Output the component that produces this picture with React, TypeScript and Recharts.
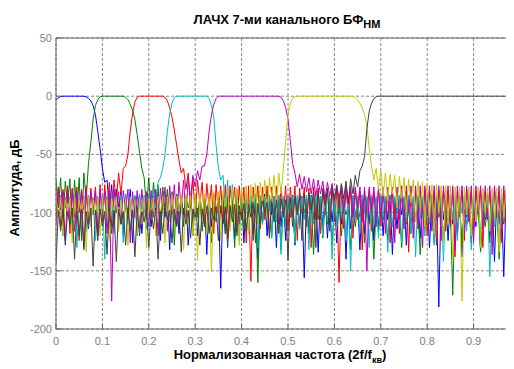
import React from 'react';
import { LineChart, Line, XAxis, YAxis, CartesianGrid, ReferenceLine } from 'recharts';

// Frequency grid step (normalized frequency 2f/fs); 201 samples from 0 to 1
const FREQ_STEP = 0.005;
const xTicks = [0, 0.1, 0.2, 0.3, 0.4, 0.5, 0.6, 0.7, 0.8, 0.9];
const yTicks = [-200, -150, -100, -50, 0, 50];

// Channel magnitude responses, dB (one value per grid point)
const ch1 = [
  -3.4, -1.5, -0.3, 0, 0, 0, 0, 0, 0, 0, 0, 0, 0, -0.5, -2, -4, -8, -16, -30, -45,
  -62, -74, -72, -98, -76, -110, -80, -95, -82, -120, -84, -104, -80, -126, -86, -100, -84, -118, -88, -106,
  -84, -112, -86, -98, -82, -124, -88, -104, -85, -132, -86, -108, -84, -118, -88, -102, -86, -128, -85, -110,
  -86, -120, -84, -104, -88, -136, -86, -112, -84, -100, -87, -165, -85, -118, -86, -106, -88, -122, -84, -110,
  -86, -126, -88, -104, -85, -118, -87, -140, -86, -108, -84, -120, -88, -102, -86, -130, -85, -112, -88, -124,
  -86, -104, -85, -128, -87, -110, -86, -156, -88, -118, -85, -106, -87, -134, -86, -112, -84, -122, -88, -108,
  -86, -126, -88, -110, -85, -140, -87, -114, -86, -104, -88, -132, -85, -118, -87, -108, -86, -124, -88, -112,
  -86, -120, -87, -106, -85, -136, -88, -114, -86, -102, -87, -128, -85, -116, -88, -108, -86, -122, -87, -110,
  -86, -130, -85, -112, -88, -181, -86, -106, -87, -124, -85, -110, -88, -118, -86, -138, -87, -104, -85, -126,
  -87, -112, -86, -132, -88, -106, -85, -120, -87, -142, -86, -110, -88, -155, -85, -108, -87, -130, -86, -114,
  -88,
];
const ch2 = [
  -72, -96, -70, -110, -73, -92, -71, -118, -72, -100, -70, -124, -66, -88, -58, -40, -20, -8, -3, -0.5,
  0, 0, 0, 0, 0, 0, 0, 0, 0, 0, -1, -3, -7, -12, -20, -33, -48, -62, -70, -96,
  -70, -104, -74, -92, -76, -116, -78, -98, -80, -108, -82, -128, -84, -100, -85, -112, -86, -96, -87, -120,
  -88, -104, -87, -116, -89, -98, -88, -126, -90, -108, -88, -100, -89, -118, -90, -106, -88, -130, -89, -102,
  -90, -114, -89, -104, -91, -124, -90, -160, -89, -110, -91, -100, -90, -120, -89, -108, -91, -132, -90, -112,
  -91, -104, -90, -126, -92, -112, -91, -100, -92, -118, -90, -136, -92, -106, -91, -122, -93, -110, -92, -128,
  -93, -108, -92, -120, -94, -102, -93, -132, -94, -112, -93, -104, -95, -126, -94, -110, -96, -140, -95, -116,
  -96, -106, -95, -124, -97, -112, -96, -100, -97, -130, -96, -110, -97, -118, -96, -104, -97, -136, -96, -114,
  -97, -108, -96, -126, -97, -104, -96, -120, -97, -112, -96, -171, -97, -106, -96, -128, -97, -110, -96, -122,
  -97, -104, -96, -134, -97, -112, -96, -126, -97, -106, -96, -140, -97, -110, -96, -122, -97, -108, -96, -130,
  -97,
];
const ch3 = [
  -100, -78, -112, -80, -96, -77, -118, -79, -104, -78, -124, -80, -98, -77, -110, -79, -102, -78, -116, -76,
  -108, -76, -98, -74, -112, -72, -90, -66, -84, -62, -60, -50, -30, -15, -5, -1, 0, 0, 0, 0,
  0, 0, 0, 0, 0, 0, 0, -1, -4, -10, -18, -29, -42, -55, -66, -62, -80, -66, -96, -70,
  -104, -72, -92, -74, -110, -75, -96, -76, -118, -76, -100, -77, -108, -76, -122, -77, -98, -78, -112, -77,
  -104, -78, -126, -77, -159, -78, -100, -77, -114, -78, -106, -77, -120, -78, -98, -77, -110, -78, -102, -77,
  -116, -78, -104, -77, -124, -79, -100, -78, -112, -79, -130, -78, -106, -79, -118, -79, -102, -80, -110, -79,
  -108, -80, -160, -81, -114, -80, -102, -81, -122, -80, -106, -82, -132, -81, -100, -80, -116, -82, -104, -81,
  -112, -80, -100, -82, -126, -81, -106, -80, -118, -82, -102, -81, -134, -80, -108, -82, -114, -81, -100, -80,
  -120, -82, -106, -81, -128, -80, -104, -82, -116, -81, -110, -80, -138, -82, -102, -81, -124, -80, -108, -82,
  -114, -81, -100, -80, -130, -82, -106, -81, -118, -80, -104, -82, -126, -81, -110, -80, -120, -82, -102, -81,
  -108,
];
const ch4 = [
  -86, -104, -85, -120, -87, -98, -86, -112, -85, -130, -87, -100, -86, -116, -85, -106, -87, -124, -86, -102,
  -85, -140, -86, -108, -84, -118, -86, -100, -85, -126, -84, -110, -86, -104, -85, -120, -84, -98, -85, -114,
  -84, -106, -80, -96, -74, -70, -62, -50, -30, -15, -6, -1, 0, 0, 0, 0, 0, 0, 0, 0,
  0, 0, 0, 0, 0, 0, -2, -8, -18, -42, -62, -72, -68, -100, -72, -112, -76, -104, -80, -124,
  -82, -106, -84, -118, -85, -100, -84, -130, -85, -110, -86, -104, -85, -122, -86, -108, -85, -136, -86, -112,
  -85, -102, -86, -126, -85, -114, -86, -106, -85, -132, -86, -110, -85, -100, -86, -120, -85, -108, -86, -140,
  -85, -112, -86, -104, -85, -124, -86, -150, -85, -106, -86, -118, -85, -100, -86, -130, -85, -110, -86, -122,
  -85, -104, -86, -134, -85, -112, -86, -100, -85, -126, -86, -108, -85, -118, -86, -138, -85, -106, -86, -120,
  -85, -110, -86, -128, -85, -102, -86, -142, -85, -112, -86, -106, -85, -124, -86, -100, -85, -116, -86, -132,
  -85, -108, -86, -120, -85, -104, -86, -155, -85, -112, -86, -128, -85, -106, -86, -140, -85, -110, -86, -118,
  -85,
];
const ch5 = [
  -110, -80, -98, -82, -124, -81, -104, -80, -116, -82, -100, -81, -130, -80, -108, -82, -96, -81, -120, -80,
  -106, -82, -118, -81, -176, -80, -100, -82, -110, -81, -98, -80, -126, -82, -104, -81, -114, -80, -100, -82,
  -112, -81, -104, -80, -120, -79, -98, -78, -116, -77, -102, -76, -110, -74, -96, -72, -104, -70, -88, -68,
  -78, -64, -72, -60, -60, -50, -30, -16, -7, -2, 0, 0, 0, 0, 0, 0, 0, 0, 0, 0,
  0, 0, 0, 0, 0, 0, 0, 0, 0, 0, 0, 0, 0, 0, 0, 0, 0, -1, -4, -10,
  -20, -38, -58, -66, -78, -67, -80, -69, -82, -70, -84, -71, -86, -72, -84, -73, -88, -74, -86, -75,
  -90, -76, -88, -76, -100, -77, -92, -77, -104, -78, -96, -78, -108, -78, -150, -78, -98, -78, -112, -78,
  -104, -78, -118, -78, -100, -78, -126, -78, -106, -77, -114, -77, -100, -77, -122, -77, -108, -77, -130, -77,
  -102, -77, -116, -77, -106, -77, -124, -77, -100, -77, -112, -77, -132, -77, -104, -77, -118, -77, -108, -77,
  -126, -77, -102, -77, -114, -77, -106, -77, -136, -77, -104, -77, -120, -77, -110, -77, -100, -77, -128, -77,
  -104,
];
const ch6 = [
  -88, -104, -87, -118, -89, -98, -88, -126, -87, -108, -89, -100, -88, -134, -87, -112, -89, -102, -88, -120,
  -87, -106, -89, -124, -88, -100, -87, -116, -89, -108, -88, -128, -87, -102, -89, -118, -88, -110, -87, -130,
  -88, -104, -87, -120, -86, -100, -87, -126, -86, -108, -85, -114, -86, -102, -85, -132, -84, -110, -85, -120,
  -84, -141, -83, -106, -84, -118, -83, -151, -82, -104, -82, -124, -81, -100, -80, -116, -80, -108, -79, -128,
  -78, -104, -77, -118, -76, -98, -75, -110, -74, -92, -72, -104, -70, -88, -68, -96, -66, -84, -62, -38,
  -16, -6, -2, -0.5, 0, 0, 0, 0, 0, 0, 0, 0, 0, 0, 0, 0, 0, 0, 0, 0,
  0, 0, 0, 0, 0, 0, 0, 0, 0, -1, -3, -6, -10, -16, -25, -45, -60, -72, -62, -80,
  -64, -86, -66, -90, -67, -84, -68, -96, -69, -88, -70, -100, -71, -92, -72, -108, -73, -96, -74, -112,
  -75, -104, -76, -118, -76, -100, -77, -126, -77, -110, -77, -140, -78, -106, -78, -176, -78, -102, -78, -120,
  -78, -108, -78, -130, -79, -100, -79, -116, -79, -106, -79, -134, -79, -104, -79, -118, -79, -110, -79, -126,
  -79,
];
const ch7 = [
  -144, -98, -116, -97, -128, -99, -110, -96, -140, -98, -120, -97, -132, -99, -114, -96, -146, -98, -124, -97,
  -112, -99, -136, -96, -118, -98, -142, -97, -110, -99, -128, -96, -116, -98, -138, -97, -120, -99, -108, -96,
  -130, -98, -114, -97, -140, -99, -118, -96, -106, -98, -126, -97, -112, -99, -134, -96, -110, -98, -122, -97,
  -104, -96, -128, -97, -112, -95, -118, -96, -106, -95, -124, -94, -110, -95, -130, -94, -108, -93, -120, -94,
  -106, -92, -116, -93, -104, -91, -126, -92, -110, -90, -100, -91, -122, -90, -108, -89, -118, -88, -104, -89,
  -141, -87, -112, -86, -102, -85, -124, -84, -108, -83, -98, -82, -130, -81, -106, -80, -94, -79, -116, -78,
  -90, -77, -96, -75, -88, -73, -92, -71, -84, -68, -78, -64, -60, -52, -28, -13, -6, -2, -0.5, 0,
  0, 0, 0, 0, 0, 0, 0, 0, 0, 0, 0, 0, 0, 0, 0, 0, 0, 0, 0, 0,
  0, 0, 0, 0, 0, 0, 0, 0, 0, 0, 0, 0, 0, 0, 0, 0, 0, 0, 0, 0,
  0, 0, 0, 0, 0, 0, 0, 0, 0, 0, 0, 0, 0, 0, 0, -1, -3, -8, -15, -25,
  -40,
];

const channels = [
  { key: 'c1', values: ch1, color: '#0000ff' },
  { key: 'c2', values: ch2, color: '#008000' },
  { key: 'c3', values: ch3, color: '#ff0000' },
  { key: 'c4', values: ch4, color: '#00bfbf' },
  { key: 'c5', values: ch5, color: '#bf00bf' },
  { key: 'c6', values: ch6, color: '#c8c800' },
  { key: 'c7', values: ch7, color: '#404040' },
];

const data = ch1.map((_, i) => {
  const row: Record<string, number> = { f: Math.round(i * FREQ_STEP * 1000) / 1000 };
  channels.forEach((c) => {
    row[c.key] = c.values[i];
  });
  return row;
});

const FONT = '"Liberation Sans", Arial, Helvetica, sans-serif';
const AXIS_COLOR = '#666666';
const TICK_TEXT = '#808080';

const XTick = (props: any) => {
  const { x, y, payload } = props;
  return (
    <g>
      <line x1={x} y1={y} x2={x} y2={y - 5} stroke={AXIS_COLOR} strokeWidth={1} />
      <text x={x} y={y + 16} textAnchor="middle" fill={TICK_TEXT} fontSize={11} fontFamily={FONT}>
        {String(payload.value)}
      </text>
    </g>
  );
};

const YTick = (props: any) => {
  const { x, y, payload } = props;
  return (
    <g>
      <line x1={x} y1={y} x2={x + 5} y2={y} stroke={AXIS_COLOR} strokeWidth={1} />
      <text x={x - 4} y={y + 4} textAnchor="end" fill={TICK_TEXT} fontSize={11} fontFamily={FONT}>
        {String(payload.value)}
      </text>
    </g>
  );
};

export default function App() {
  return (
    <div style={{ position: 'relative', width: 506, height: 361, overflow: 'hidden', background: '#fff' }}>
      <LineChart
        width={530}
        height={361}
        data={data}
        margin={{ top: 30, right: 18, bottom: 0, left: 0 }}
      >
        <CartesianGrid
          stroke="#888888"
          strokeDasharray="3 2"
          horizontalValues={yTicks}
          verticalValues={xTicks}
        />
        <XAxis
          dataKey="f"
          type="number"
          domain={[0, 1]}
          ticks={xTicks}
          height={40}
          tickSize={0}
          tickMargin={0}
          tickLine={false}
          axisLine={{ stroke: AXIS_COLOR }}
          tick={<XTick />}
          allowDataOverflow
        />
        <YAxis
          type="number"
          domain={[-200, 50]}
          ticks={yTicks}
          width={48}
          tickSize={0}
          tickMargin={0}
          tickLine={false}
          axisLine={{ stroke: AXIS_COLOR }}
          tick={<YTick />}
          allowDataOverflow
        />
        <ReferenceLine y={50} stroke={AXIS_COLOR} strokeWidth={1} />
        {channels.map((c) => (
          <Line
            key={c.key}
            dataKey={c.key}
            type="linear"
            stroke={c.color}
            strokeWidth={1}
            dot={false}
            activeDot={false}
            isAnimationActive={false}
          />
        ))}
      </LineChart>
      <svg
        width={506}
        height={361}
        style={{ position: 'absolute', left: 0, top: 0, pointerEvents: 'none' }}
      >
        <text x={279} y={16} textAnchor="middle" fontSize={13} fontWeight="bold" fontFamily={FONT} fill="#000">
          ЛАЧХ 7-ми канального БФ
          <tspan fontSize={11} dy={4}>НМ</tspan>
        </text>
        <text x={272} y={351} textAnchor="middle" fontSize={13} fontWeight="bold" fontFamily={FONT} fill="#000">
          Нормализованная частота (2f/f
          <tspan fontSize={9} dy={4}>кв</tspan>
          <tspan dy={-4}>)</tspan>
        </text>
        <text
          x={11}
          y={180}
          textAnchor="middle"
          fontSize={13}
          fontWeight="bold"
          fontFamily={FONT}
          fill="#000"
          transform="rotate(-90 11 180)"
        >
          Амплитуда, дБ
        </text>
      </svg>
    </div>
  );
}
